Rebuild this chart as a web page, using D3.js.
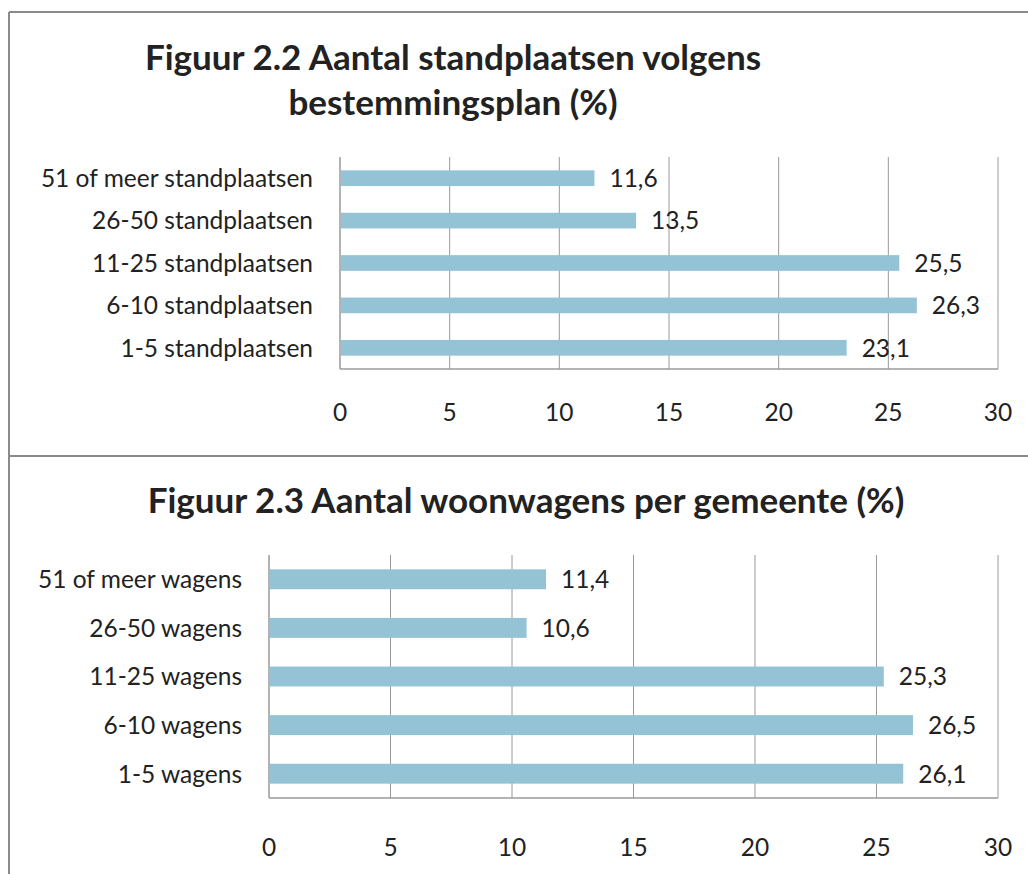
<!DOCTYPE html>
<html>
<head>
<meta charset="utf-8">
<script src="https://cdn.jsdelivr.net/npm/d3@7"></script>
<style>
  body { margin: 0; background: #fff; }
  svg text { font-family: Lato, "Open Sans", sans-serif; fill: #222; }
</style>
</head>
<body>
<div id="svg-container"></div>
<script>
// data
const cats1 = ["51 of meer standplaatsen", "26-50 standplaatsen", "11-25 standplaatsen", "6-10 standplaatsen", "1-5 standplaatsen"];
const vals1 = [11.6, 13.5, 25.5, 26.3, 23.1];
const cats2 = ["51 of meer wagens", "26-50 wagens", "11-25 wagens", "6-10 wagens", "1-5 wagens"];
const vals2 = [11.4, 10.6, 25.3, 26.5, 26.1];
const ticks = [0, 5, 10, 15, 20, 25, 30];

const width = 1028, height = 874;
const barColor = "#93c3d4";
const gridColor = "#9a9a9a";
const labelSize = 24.5;

const svg = d3.select("#svg-container").append("svg")
  .attr("width", width).attr("height", height);

// frame
svg.append("line").attr("x1", 9).attr("x2", width).attr("y1", 12).attr("y2", 12)
  .attr("stroke", "#8a8a8a").attr("stroke-width", 2);
svg.append("line").attr("x1", 9).attr("x2", 9).attr("y1", 12).attr("y2", height)
  .attr("stroke", "#8a8a8a").attr("stroke-width", 2);
svg.append("line").attr("x1", 9).attr("x2", width).attr("y1", 456).attr("y2", 456)
  .attr("stroke", "#8a8a8a").attr("stroke-width", 2);

// one chart
function drawChart(opt) {
  const x = d3.scaleLinear().domain([0, 30]).range([opt.left, opt.right]);
  const y = d3.scaleBand().domain(opt.cats).range([opt.top, opt.bottom]).paddingInner(opt.pad).paddingOuter(opt.pad / 2);
  const g = svg.append("g");

  // titles
  opt.title.forEach((t, i) => {
    g.append("text")
      .attr("x", opt.titleX).attr("y", opt.titleY + i * 45)
      .attr("text-anchor", "middle")
      .attr("font-size", 35).attr("font-weight", "bold")
      .text(t);
  });

  // grid lines
  g.selectAll(".grid").data(ticks.slice(1)).enter().append("line")
    .attr("x1", d => x(d)).attr("x2", d => x(d))
    .attr("y1", opt.top).attr("y2", opt.bottom)
    .attr("stroke", gridColor).attr("stroke-width", 1);

  // axes lines
  g.append("line").attr("x1", x(0)).attr("x2", x(0)).attr("y1", opt.top).attr("y2", opt.bottom)
    .attr("stroke", gridColor).attr("stroke-width", 1.5);
  g.append("line").attr("x1", x(0)).attr("x2", x(30)).attr("y1", opt.bottom).attr("y2", opt.bottom)
    .attr("stroke", gridColor).attr("stroke-width", 1.5);

  // bars
  g.selectAll(".bar").data(opt.vals).enter().append("rect")
    .attr("x", x(0) + 1)
    .attr("y", (d, i) => y(opt.cats[i]))
    .attr("width", d => x(d) - x(0) - 1)
    .attr("height", y.bandwidth())
    .attr("fill", barColor);

  // value labels
  g.selectAll(".val").data(opt.vals).enter().append("text")
    .attr("x", d => x(d) + 15)
    .attr("y", (d, i) => y(opt.cats[i]) + y.bandwidth() / 2)
    .attr("dy", "0.36em")
    .attr("font-size", labelSize)
    .text(d => d3.format(".1f")(d).replace(".", ","));

  // category labels
  g.selectAll(".cat").data(opt.cats).enter().append("text")
    .attr("x", x(0) - 27)
    .attr("y", d => y(d) + y.bandwidth() / 2)
    .attr("dy", "0.36em")
    .attr("text-anchor", "end")
    .attr("font-size", labelSize)
    .text(d => d);

  // tick labels
  g.selectAll(".tick").data(ticks).enter().append("text")
    .attr("x", d => x(d))
    .attr("y", opt.tickY)
    .attr("text-anchor", "middle")
    .attr("font-size", labelSize)
    .text(d => d);
}

drawChart({
  cats: cats1, vals: vals1,
  left: 340, right: 998, top: 157, bottom: 369, pad: 0.63,
  title: ["Figuur 2.2 Aantal standplaatsen volgens", "bestemmingsplan (%)"],
  titleX: 453, titleY: 70, tickY: 421
});

drawChart({
  cats: cats2, vals: vals2,
  left: 269, right: 998, top: 555, bottom: 798, pad: 0.59,
  title: ["Figuur 2.3 Aantal woonwagens per gemeente (%)"],
  titleX: 526, titleY: 513, tickY: 856
});
</script>
</body>
</html>
